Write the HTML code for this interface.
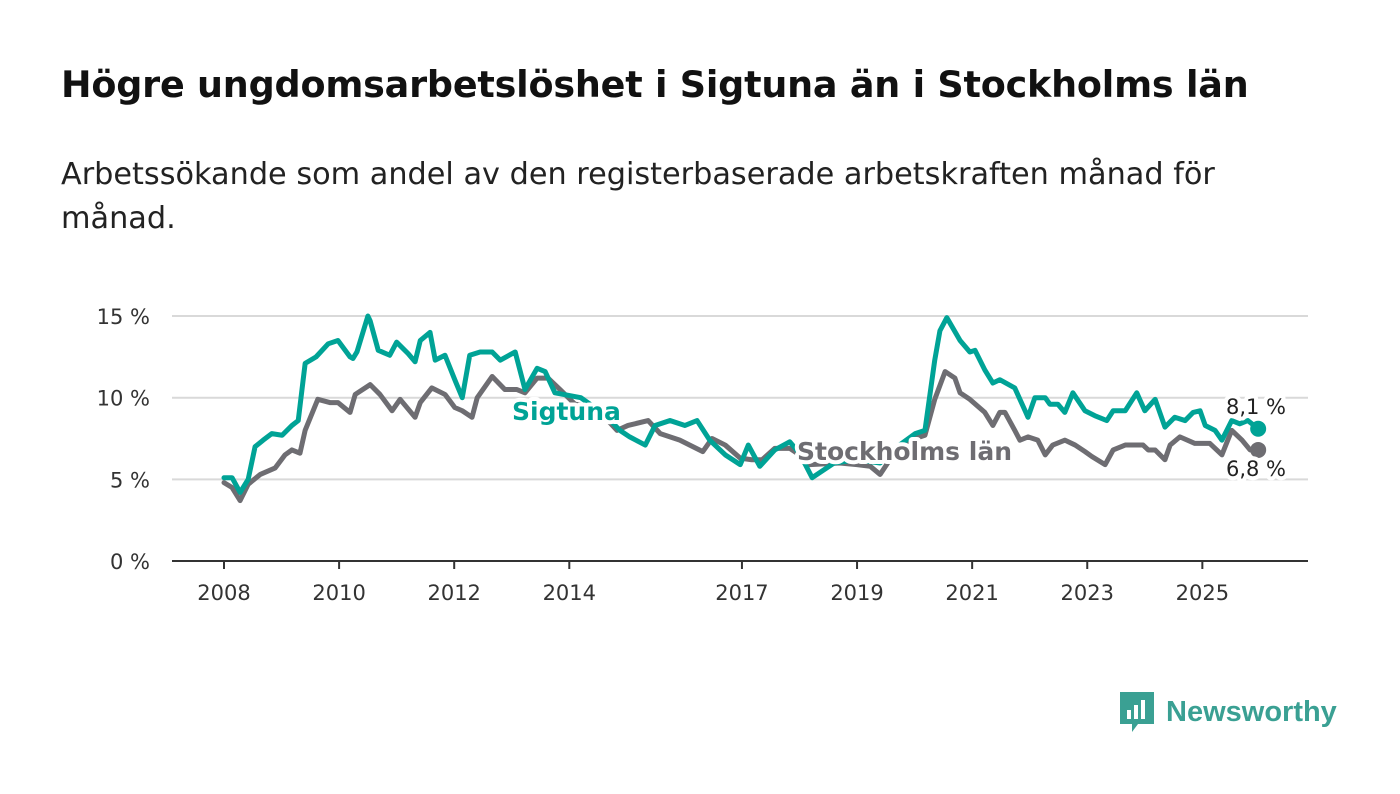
<!DOCTYPE html>
<html><head><meta charset="utf-8"><style>
body{margin:0;width:1400px;height:794px;background:#fff;font-family:"Liberation Sans","DejaVu Sans",sans-serif;overflow:hidden;position:relative}
h1{position:absolute;left:61px;top:63px;margin:0;font-family:"DejaVu Sans",sans-serif;font-size:36.5px;font-weight:bold;color:#111;letter-spacing:-0.2px;white-space:nowrap}
p.sub{position:absolute;left:61px;top:153px;margin:0;font-family:"DejaVu Sans",sans-serif;font-size:30.3px;line-height:44px;color:#222;width:1240px}
svg{position:absolute;left:0;top:0}
</style></head><body>
<h1>Högre ungdomsarbetslöshet i Sigtuna än i Stockholms län</h1>
<p class="sub">Arbetssökande som andel av den registerbaserade arbetskraften månad för månad.</p>
<svg id="chart" width="1400" height="794"></svg>
<div style="position:absolute;left:1118px;top:690px;display:flex;align-items:center">
<svg width="38" height="44" style="position:static"><path d="M2 2h34v32H20l-6 8v-8H2z" fill="#3aa093"/><rect x="9" y="20" width="4" height="9" fill="#fff"/><rect x="16" y="15" width="4" height="14" fill="#fff"/><rect x="23" y="10" width="4" height="19" fill="#fff"/></svg>
<span style="font-size:29px;font-weight:bold;color:#3aa093;margin-left:10px">Newsworthy</span></div>
<script>
const yTicks=[0,5,10,15];
const xTicks=[2008,2010,2012,2014,2017,2019,2021,2023,2025];
const sigT=[2008.0,2008.14,2008.28,2008.42,2008.54,2008.68,2008.83,2009.01,2009.18,2009.29,2009.41,2009.6,2009.81,2009.98,2010.19,2010.24,2010.31,2010.5,2010.54,2010.68,2010.88,2011.0,2011.2,2011.32,2011.41,2011.58,2011.67,2011.84,2012.01,2012.14,2012.27,2012.45,2012.66,2012.8,2013.06,2013.23,2013.44,2013.58,2013.75,2014.2,2014.6,2014.88,2015.05,2015.32,2015.49,2015.75,2016.01,2016.22,2016.44,2016.71,2016.97,2017.11,2017.31,2017.57,2017.83,2018.0,2018.22,2018.6,2019.0,2019.4,2019.7,2020.01,2020.18,2020.35,2020.44,2020.56,2020.79,2020.96,2021.05,2021.22,2021.36,2021.48,2021.74,2021.92,2021.97,2022.09,2022.27,2022.35,2022.49,2022.61,2022.75,2022.96,2023.13,2023.34,2023.45,2023.66,2023.86,2024.0,2024.18,2024.35,2024.52,2024.7,2024.84,2024.96,2025.05,2025.22,2025.34,2025.51,2025.65,2025.79,2025.97];
const sigV=[5.1,5.1,4.2,5.0,7.0,7.4,7.8,7.7,8.3,8.6,12.1,12.5,13.3,13.5,12.5,12.4,12.8,15.0,14.7,12.9,12.6,13.4,12.7,12.2,13.5,14.0,12.3,12.6,11.1,10.0,12.6,12.8,12.8,12.3,12.8,10.5,11.8,11.6,10.3,10.0,9.0,8.0,7.6,7.1,8.3,8.6,8.3,8.6,7.4,6.5,5.9,7.1,5.8,6.8,7.3,6.6,5.1,6.0,6.2,6.0,7.0,7.8,8.0,12.3,14.1,14.9,13.5,12.8,12.9,11.7,10.9,11.1,10.6,9.2,8.8,10.0,10.0,9.6,9.6,9.1,10.3,9.2,8.9,8.6,9.2,9.2,10.3,9.2,9.9,8.2,8.8,8.6,9.1,9.2,8.3,8.0,7.4,8.6,8.4,8.6,8.1];
const stoT=[2008.0,2008.14,2008.28,2008.42,2008.63,2008.89,2009.06,2009.18,2009.32,2009.41,2009.63,2009.84,2009.98,2010.19,2010.28,2010.54,2010.71,2010.92,2011.06,2011.32,2011.41,2011.61,2011.84,2012.01,2012.14,2012.31,2012.4,2012.66,2012.88,2013.09,2013.23,2013.44,2013.63,2013.84,2014.1,2014.53,2014.67,2014.83,2015.02,2015.37,2015.58,2015.92,2016.32,2016.48,2016.71,2016.97,2017.17,2017.35,2017.57,2017.83,2018.0,2018.18,2018.7,2019.0,2019.23,2019.4,2019.57,2020.01,2020.18,2020.35,2020.53,2020.7,2020.79,2020.96,2021.22,2021.36,2021.48,2021.57,2021.74,2021.83,2021.97,2022.14,2022.27,2022.4,2022.61,2022.79,2022.96,2023.08,2023.31,2023.45,2023.66,2023.97,2024.06,2024.18,2024.35,2024.44,2024.61,2024.87,2025.13,2025.34,2025.51,2025.69,2025.83,2025.97];
const stoV=[4.8,4.5,3.7,4.7,5.3,5.7,6.5,6.8,6.6,8.0,9.9,9.7,9.7,9.1,10.2,10.8,10.2,9.2,9.9,8.8,9.7,10.6,10.2,9.4,9.2,8.8,10.0,11.3,10.5,10.5,10.3,11.2,11.2,10.5,9.6,9.4,8.6,8.0,8.3,8.6,7.8,7.4,6.7,7.5,7.1,6.3,6.2,6.2,6.9,6.9,6.5,5.9,6.0,5.9,5.8,5.3,6.2,7.5,7.7,9.9,11.6,11.2,10.3,9.9,9.1,8.3,9.1,9.1,8.0,7.4,7.6,7.4,6.5,7.1,7.4,7.1,6.7,6.4,5.9,6.8,7.1,7.1,6.8,6.8,6.2,7.1,7.6,7.2,7.2,6.5,8.0,7.4,6.8,6.8];
const NS='http://www.w3.org/2000/svg';
const svg=document.getElementById('chart');
const X=t=>224+(t-2008)*57.55;
const Y=v=>561-v*16.33;
function mk(tag,attrs){const e=document.createElementNS(NS,tag);for(const k in attrs)e.setAttribute(k,attrs[k]);svg.appendChild(e);return e;}
yTicks.forEach(v=>{
 const l=mk('line',{x1:172,x2:1308,y1:Y(v),y2:Y(v),stroke:v===0?'#333':'#d9d9d9','stroke-width':2});
 
 
 const t=mk('text',{x:150,y:Y(v)+8,'text-anchor':'end','font-size':21,fill:'#333','font-family':'DejaVu Sans, sans-serif'});
 t.textContent=v+' %';
 
 
});
xTicks.forEach(y=>{
 const k=mk('line',{x1:X(y),x2:X(y),y1:561,y2:569,stroke:'#333','stroke-width':2});
 
 
 const t=mk('text',{x:X(y),y:600,'text-anchor':'middle','font-size':21,fill:'#333','font-family':'DejaVu Sans, sans-serif'});
 t.textContent=y;
 
 
});
function line(T,V,c,name){
 const p=mk('polyline',{points:T.map((t,i)=>X(t)+','+Y(V[i])).join(' '),fill:'none',stroke:c,'stroke-width':5,'stroke-linejoin':'round','stroke-linecap':'round'});
 
 
 const d=mk('circle',{cx:X(T[T.length-1]),cy:Y(V[V.length-1]),r:8,fill:c});
 
 
}
line(stoT,stoV,'#6e6d72','stockholm-line');
line(sigT,sigV,'#00a396','sigtuna-line');
function lab(x,y,txt,c,w,name,anchor){
 const t=mk('text',{x:x,y:y,'font-size':w?25:21,'font-weight':w?'bold':'normal',fill:c,stroke:'#fff','stroke-width':8,'paint-order':'stroke','stroke-linejoin':'round','text-anchor':anchor||'start','font-family':'DejaVu Sans, sans-serif'});
 t.textContent=txt;
 
 
}
lab(512,420,'Sigtuna','#00a396',1,'sigtuna-label');
lab(797,460,'Stockholms län','#6e6d72',1,'stockholm-label');
lab(1256,414,'8,1 %','#222',0,'sigtuna-end-value','middle');
lab(1256,476,'6,8 %','#222',0,'stockholm-end-value','middle');
</script>
</body></html>
